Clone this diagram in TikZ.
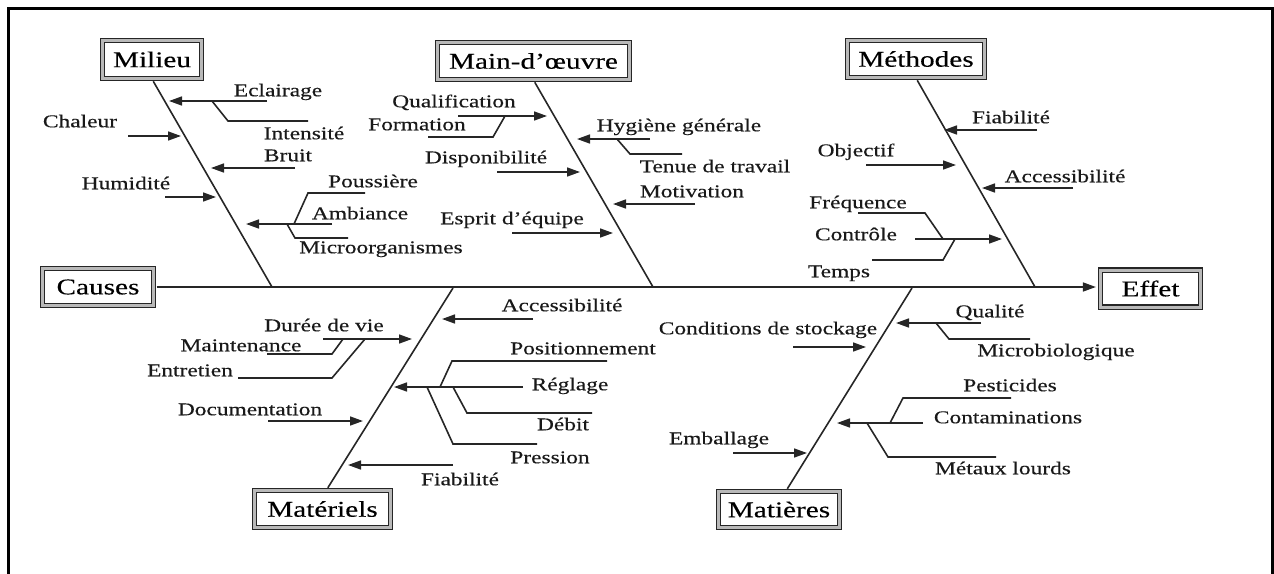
\documentclass[tikz,border=0pt]{standalone}
\usepackage{fontspec}
\setmainfont{Liberation Serif}[FakeStretch=1.3,FakeBold=0.3]
\usetikzlibrary{arrows.meta}
\begin{document}
\begin{tikzpicture}[x=1pt,y=-1pt,
  lab/.style={font=\fontsize{18}{20}\selectfont, inner sep=0pt, text height=12.5pt, text depth=0pt, text=black!90},
  cbox/.style={draw=black!85, line width=1.2pt, double=gray!55, double distance=3pt, fill=white, inner sep=0pt, font=\fontsize{22.5}{26}\selectfont, text=black},
  ln/.style={line width=1.6pt, draw=black!85},
  arr/.style={ln, -{Triangle[length=13pt,width=9pt]}}]
\useasboundingbox (0,0) rectangle (1274,573);
% frame
\coordinate (fbl) at (8,575); \coordinate (ftl) at (8,8); \coordinate (ftr) at (1272,8); \coordinate (fbr) at (1272,575);
\draw[line width=3pt, line join=miter] (fbl) -- (ftl) -- (ftr) -- (fbr);

% category boxes
\node[cbox, minimum width=99pt, minimum height=38pt] (mil) at (152,59.5) {Milieu};
\node[cbox, minimum width=192pt, minimum height=37pt] (mdo) at (533.5,61) {Main-d’œuvre};
\node[cbox, minimum width=137pt, minimum height=37pt] (met) at (916,59) {Méthodes};
\node[cbox, minimum width=111pt, minimum height=37pt] (cau) at (98,287) {Causes};
\node[cbox, minimum width=100pt, minimum height=37pt] (eff) at (1150.5,288.5) {Effet};
\node[cbox, minimum width=136pt, minimum height=37pt] (mtl) at (322.5,509) {Matériels};
\node[cbox, minimum width=121pt, minimum height=36pt] (mtr) at (779,509.5) {Matières};

% axis and spines
\draw[arr, shorten <=2.5pt, shorten >=4pt] (cau.east) -- (cau.east -| eff.west);
\coordinate (milax) at (272,287);
\coordinate (mdoax) at (653,287);
\coordinate (metax) at (1035,287);
\coordinate (mtlax) at (453,288);
\coordinate (mtrax) at (912,288);
\draw[ln, shorten <=2.5pt] (mil.south) -- (milax);
\draw[ln, shorten <=2.5pt] (mdo.south) -- (mdoax);
\draw[ln, shorten <=2.5pt] (met.south) -- (metax);
\draw[ln, shorten <=2.5pt] ([xshift=4pt]mtl.north) -- (mtlax);
\draw[ln, shorten <=2.5pt] ([xshift=7pt]mtr.north) -- (mtrax);

% ---------- Milieu ----------
\node[lab] (tEcl) at (278,90) {Eclairage};
\node[lab] (tInt) at (304,133) {Intensité};
\node[lab] (tCha) at (80,121) {Chaleur};
\node[lab] (tBru) at (288,155) {Bruit};
\node[lab] (tHum) at (126,183) {Humidité};
\node[lab] (tPou) at (373,181) {Poussière};
\node[lab] (tAmb) at (360,213) {Ambiance};
\node[lab] (tMic) at (381,247) {Microorganismes};
\coordinate (eclS) at (267,101); \coordinate (eclT) at (169,101);
\coordinate (intA) at (212,101); \coordinate (intB) at (228,121); \coordinate (intC) at (308,121);
\coordinate (chaS) at (128,136); \coordinate (chaT) at (181,136);
\coordinate (bruS) at (295,168); \coordinate (bruT) at (211,168);
\coordinate (humS) at (165,197); \coordinate (humT) at (216,197);
\coordinate (ambS) at (332,224); \coordinate (ambT) at (246,224);
\coordinate (pouA) at (294,224); \coordinate (pouB) at (308,193); \coordinate (pouC) at (365,193);
\coordinate (micA) at (287,224); \coordinate (micB) at (295,238); \coordinate (micC) at (348,238);
\draw[arr] (eclS) -- (eclT);
\draw[ln] (intA) -- (intB) -- (intC);
\draw[arr] (chaS) -- (chaT);
\draw[arr] (bruS) -- (bruT);
\draw[arr] (humS) -- (humT);
\draw[arr] (ambS) -- (ambT);
\draw[ln] (pouA) -- (pouB) -- (pouC);
\draw[ln] (micA) -- (micB) -- (micC);

% ---------- Main-d'oeuvre ----------
\node[lab] (tQua) at (454,101) {Qualification};
\node[lab] (tFor) at (417,124) {Formation};
\node[lab] (tHyg) at (679,125) {Hygiène générale};
\node[lab] (tTen) at (715,166) {Tenue de travail};
\node[lab] (tDis) at (486,157) {Disponibilité};
\node[lab] (tMot) at (692,191) {Motivation};
\node[lab] (tEsp) at (512,218) {Esprit d’équipe};
\coordinate (quaS) at (458,116); \coordinate (quaT) at (547,116);
\coordinate (forA) at (428,137); \coordinate (forB) at (493,137); \coordinate (forC) at (505,116);
\coordinate (hygS) at (650,139); \coordinate (hygT) at (577,139);
\coordinate (tenA) at (617,139); \coordinate (tenB) at (630,154); \coordinate (tenC) at (682,154);
\coordinate (disS) at (497,172); \coordinate (disT) at (580,172);
\coordinate (motS) at (695,204); \coordinate (motT) at (613,204);
\coordinate (espS) at (512,233); \coordinate (espT) at (613,233);
\draw[arr] (quaS) -- (quaT);
\draw[ln] (forA) -- (forB) -- (forC);
\draw[arr] (hygS) -- (hygT);
\draw[ln] (tenA) -- (tenB) -- (tenC);
\draw[arr] (disS) -- (disT);
\draw[arr] (motS) -- (motT);
\draw[arr] (espS) -- (espT);

% ---------- Methodes ----------
\node[lab] (tFia) at (1011,117) {Fiabilité};
\node[lab] (tObj) at (856,150) {Objectif};
\node[lab] (tAcc) at (1065,176) {Accessibilité};
\node[lab] (tFre) at (858,202) {Fréquence};
\node[lab] (tCon) at (856,234) {Contrôle};
\node[lab] (tTem) at (839,271) {Temps};
\coordinate (fiaS) at (1037,130); \coordinate (fiaT) at (944,130);
\coordinate (objS) at (866,165); \coordinate (objT) at (956,165);
\coordinate (accS) at (1073,188); \coordinate (accT) at (982,188);
\coordinate (conS) at (915,239); \coordinate (conT) at (1002,239);
\coordinate (freA) at (858,213); \coordinate (freB) at (925,213); \coordinate (freC) at (943,239);
\coordinate (temA) at (872,260); \coordinate (temB) at (943,260); \coordinate (temC) at (955,239);
\draw[arr] (fiaS) -- (fiaT);
\draw[arr] (objS) -- (objT);
\draw[arr] (accS) -- (accT);
\draw[arr] (conS) -- (conT);
\draw[ln] (freA) -- (freB) -- (freC);
\draw[ln] (temA) -- (temB) -- (temC);

% ---------- Materiels ----------
\node[lab] (tDur) at (324,325) {Durée de vie};
\node[lab] (tMai) at (241,345) {Maintenance};
\node[lab] (tEnt) at (190,370) {Entretien};
\node[lab] (tDoc) at (250,409) {Documentation};
\node[lab] (tAcm) at (562,305) {Accessibilité};
\node[lab] (tPos) at (583,348) {Positionnement};
\node[lab] (tReg) at (570,384) {Réglage};
\node[lab] (tDeb) at (563,424) {Débit};
\node[lab] (tPre) at (550,457) {Pression};
\node[lab] (tFim) at (460,479) {Fiabilité};
\coordinate (durS) at (323,339); \coordinate (durT) at (412,339);
\coordinate (maiA) at (267,354); \coordinate (maiB) at (332,354); \coordinate (maiC) at (343,339);
\coordinate (entA) at (238,378); \coordinate (entB) at (332,378); \coordinate (entC) at (365,339);
\coordinate (docS) at (268,421); \coordinate (docT) at (363,421);
\coordinate (acmS) at (533,319); \coordinate (acmT) at (442,319);
\coordinate (regS) at (523,387); \coordinate (regT) at (394,387);
\coordinate (posA) at (440,387); \coordinate (posB) at (452,361); \coordinate (posC) at (607,361);
\coordinate (debA) at (453,387); \coordinate (debB) at (467,413); \coordinate (debC) at (592,413);
\coordinate (preA) at (427,387); \coordinate (preB) at (453,444); \coordinate (preC) at (537,444);
\coordinate (fimS) at (453,465); \coordinate (fimT) at (348,465);
\draw[arr] (durS) -- (durT);
\draw[ln] (maiA) -- (maiB) -- (maiC);
\draw[ln] (entA) -- (entB) -- (entC);
\draw[arr] (docS) -- (docT);
\draw[arr] (acmS) -- (acmT);
\draw[arr] (regS) -- (regT);
\draw[ln] (posA) -- (posB) -- (posC);
\draw[ln] (debA) -- (debB) -- (debC);
\draw[ln] (preA) -- (preB) -- (preC);
\draw[arr] (fimS) -- (fimT);

% ---------- Matieres ----------
\node[lab] (tSto) at (768,328) {Conditions de stockage};
\node[lab] (tQul) at (990,311) {Qualité};
\node[lab] (tMib) at (1056,350) {Microbiologique};
\node[lab] (tPes) at (1010,385) {Pesticides};
\node[lab] (tCot) at (1008,417) {Contaminations};
\node[lab] (tMet) at (1003,468) {Métaux lourds};
\node[lab] (tEmb) at (719,438) {Emballage};
\coordinate (stoS) at (793,347); \coordinate (stoT) at (866,347);
\coordinate (qulS) at (981,323); \coordinate (qulT) at (896,323);
\coordinate (mibA) at (936,323); \coordinate (mibB) at (949,339); \coordinate (mibC) at (1030,339);
\coordinate (cotS) at (923,423); \coordinate (cotT) at (837,423);
\coordinate (pesA) at (890,423); \coordinate (pesB) at (903,398); \coordinate (pesC) at (1011,398);
\coordinate (metA) at (867,423); \coordinate (metB) at (888,457); \coordinate (metC) at (996,457);
\coordinate (embS) at (733,453); \coordinate (embT) at (807,453);
\draw[arr] (stoS) -- (stoT);
\draw[arr] (qulS) -- (qulT);
\draw[ln] (mibA) -- (mibB) -- (mibC);
\draw[arr] (cotS) -- (cotT);
\draw[ln] (pesA) -- (pesB) -- (pesC);
\draw[ln] (metA) -- (metB) -- (metC);
\draw[arr] (embS) -- (embT);
\end{tikzpicture}
\end{document}
